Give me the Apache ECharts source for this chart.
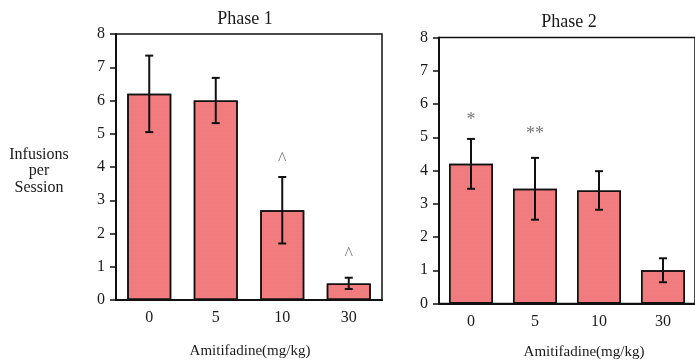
<!DOCTYPE html>
<html>
<head>
<meta charset="utf-8">
<script src="https://cdn.jsdelivr.net/npm/echarts@6/dist/echarts.min.js"></script>
<style>
  html, body { margin: 0; padding: 0; background: #fff; }
  #chart { width: 695px; height: 362px; }
</style>
</head>
<body>
<div id="chart"></div>
<script>
// 数据
var categories = ['0', '5', '10', '30'];
var phase1Mean = [6.2, 6.0, 2.7, 0.5];
var phase1Err = [1.15, 0.68, 1.0, 0.17];
var phase2Mean = [4.2, 3.45, 3.4, 1.0];
var phase2Err = [0.75, 0.93, 0.58, 0.36];
var phase1Marks = ['', '', '^', '^'];
var phase1MarkY = [null, null, 4.2, 1.35];
var phase2Marks = ['*', '**', '', ''];
var phase2MarkY = [5.5, 5.1, null, null];
var yTicks = { min: 0, max: 8, interval: 1 };

var FONT = 'Liberation Serif';
var INK = '#1a1a1a';
var BAR_COLOR = '#f27a7d';

function errData(mean, err) {
	return mean.map(function (m, i) { return [i, m - err[i], m + err[i]]; });
}
function markData(marks, ys) {
	var out = [];
	marks.forEach(function (t, i) {
		if (t) out.push({ name: t, value: [i, ys[i]] });
	});
	return out;
}
function renderErr(params, api) {
	var x = api.value(0);
	var lo = api.coord([x, api.value(1)]);
	var hi = api.coord([x, api.value(2)]);
	var hw = 4;
	var st = { stroke: '#111', lineWidth: 2 };
	return {
		type: 'group',
		children: [
			{ type: 'line', shape: { x1: hi[0], y1: hi[1], x2: lo[0], y2: lo[1] }, style: st },
			{ type: 'line', shape: { x1: hi[0] - hw, y1: hi[1], x2: hi[0] + hw, y2: hi[1] }, style: st },
			{ type: 'line', shape: { x1: lo[0] - hw, y1: lo[1], x2: lo[0] + hw, y2: lo[1] }, style: st }
		]
	};
}
function xAxisOf(idx) {
	return {
		type: 'category', gridIndex: idx, data: categories,
		axisLine: { lineStyle: { color: '#111', width: 2 } },
		axisTick: { alignWithLabel: true, length: 6, lineStyle: { color: '#111', width: 2 } },
		axisLabel: { fontFamily: FONT, fontSize: 16, color: INK, margin: 10 }
	};
}
function yAxisOf(idx) {
	return {
		type: 'value', gridIndex: idx, min: yTicks.min, max: yTicks.max, interval: yTicks.interval,
		splitLine: { show: false },
		axisLine: { show: true, lineStyle: { color: '#111', width: 2 } },
		axisTick: { show: true, length: 6, lineStyle: { color: '#111', width: 1.5 } },
		axisLabel: { fontFamily: FONT, fontSize: 16, color: INK, margin: 11 }
	};
}
function barOf(idx, mean) {
	return {
		type: 'bar', xAxisIndex: idx, yAxisIndex: idx, data: mean, barWidth: 44,
		itemStyle: {
			color: BAR_COLOR, borderColor: '#111', borderWidth: 1.5,
			decal: { symbol: 'rect', symbolSize: 0.5, dashArrayX: [1, 1], dashArrayY: [1, 1], color: 'rgba(255,190,190,0.45)', rotation: 0 }
		}
	};
}
function errOf(idx, mean, err) {
	return {
		type: 'custom', xAxisIndex: idx, yAxisIndex: idx, z: 5,
		data: errData(mean, err), encode: { x: 0, y: [1, 2] }, renderItem: renderErr
	};
}
function markOf(idx, marks, ys) {
	return {
		type: 'scatter', xAxisIndex: idx, yAxisIndex: idx, symbolSize: 1,
		itemStyle: { color: 'rgba(0,0,0,0)' },
		data: markData(marks, ys),
		label: { show: true, position: 'inside', formatter: '{b}', fontFamily: FONT, fontSize: 18, color: '#555' }
	};
}

var myChart = echarts.init(document.getElementById('chart'));
var option = {
	animation: false,
	aria: { enabled: false, decal: { show: true } },
	grid: [
		{ left: 116, top: 34, width: 266, height: 266, show: true, borderColor: '#111', borderWidth: 1.5 },
		{ left: 439, top: 37.5, width: 266.5, height: 266, show: true, borderColor: '#111', borderWidth: 1.5 }
	],
	xAxis: [xAxisOf(0), xAxisOf(1)],
	yAxis: [yAxisOf(0), yAxisOf(1)],
	series: [
		barOf(0, phase1Mean), errOf(0, phase1Mean, phase1Err), markOf(0, phase1Marks, phase1MarkY),
		barOf(1, phase2Mean), errOf(1, phase2Mean, phase2Err), markOf(1, phase2Marks, phase2MarkY)
	],
	graphic: [
		{ type: 'text', x: 245, y: 19, style: { text: 'Phase 1', font: '18px "' + FONT + '"', fill: INK, align: 'center', verticalAlign: 'middle' } },
		{ type: 'text', x: 569, y: 22, style: { text: 'Phase 2', font: '18px "' + FONT + '"', fill: INK, align: 'center', verticalAlign: 'middle' } },
		{ type: 'text', x: 39, y: 171, style: { text: 'Infusions\nper\nSession', font: '16px "' + FONT + '"', lineHeight: 16.5, fill: INK, align: 'center', verticalAlign: 'middle' } },
		{ type: 'text', x: 250, y: 351, style: { text: 'Amitifadine(mg/kg)', font: '15px "' + FONT + '"', fill: INK, align: 'center', verticalAlign: 'middle' } },
		{ type: 'text', x: 584, y: 352, style: { text: 'Amitifadine(mg/kg)', font: '15px "' + FONT + '"', fill: INK, align: 'center', verticalAlign: 'middle' } }
	]
};
myChart.setOption(option, true);
window.onresize = function () {
	myChart.resize();
};
</script>
</body>
</html>
